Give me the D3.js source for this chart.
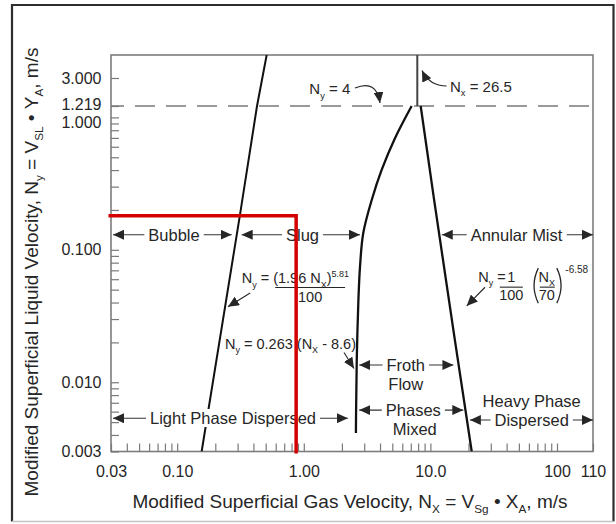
<!DOCTYPE html>
<html><head><meta charset="utf-8">
<script src="https://cdn.jsdelivr.net/npm/d3@7"></script>
<style>
html,body{margin:0;padding:0;background:#fff;}
svg{display:block;font-family:"Liberation Sans",Arial,Helvetica,sans-serif;}
</style></head><body>
<svg id="chart" width="616" height="524"></svg>
<script>
// ---------------- data ----------------
const xTickValues = [0.03, 0.1, 1, 10, 100, 110];
const xTickLabels = ["0.03", "0.10", "1.00", "10.0", "100", "110"];
const yTickValues = [0.003, 0.01, 0.1, 1, 1.219, 3];
const yTickLabels = ["0.003", "0.010", "0.100", "1.000", "1.219", "3.000"];
const xDomain = [0.03, 100, 110];
const yDomain = [0.003, 1.219, 3, 6.3];

// Bubble / Slug boundary
const bubbleNx = [0.509, 0.427, 0.313, 0.156];
const bubbleNy = [6.3, 1.219, 0.183, 0.003];
// Slug / Froth boundary (top to bottom)
const frothNx = [7.11, 5.25, 4.12, 3.44, 2.95, 2.78, 2.70, 2.65, 2.62, 2.58];
const frothNy = [1.219, 0.696, 0.401, 0.238, 0.134, 0.0746, 0.0418, 0.0236, 0.0147, 0.00414];
// Froth / Annular mist boundary (top to bottom)
const mistNx = [8.38, 10.7, 15.6, 21.2];
const mistNy = [1.219, 0.238, 0.0209, 0.003];
// Nx = 26.5 vertical segment
const verticalNx = [7.88, 7.88];
const verticalNy = [6.3, 1.219];
// dashed level and red operating point
const dashedNy = 1.219;
const redNx = 0.87;
const redNy = 0.181;

// region labels with double arrows
const rowLabels = ["Bubble", "Slug", "Annular Mist", "Light Phase Dispersed", "Froth", "Phases", "Dispersed"];
const rowFromNx = [0.0311, 0.323, 12.3, 0.0311, 2.74, 2.74, 20.5];
const rowToNx   = [0.2695, 2.78, 110, 2.23, 15.2, 18.2, 110];
const rowNy     = [0.13, 0.13, 0.13, 0.00535, 0.0135, 0.00617, 0.00519];
const rowTextNx = [0.0944, 0.977, 47.9, 0.276, 6.39, 7.33, 63.1];
// plain labels
const plainLabels = ["Flow", "Mixed", "Heavy Phase"];
const plainNx = [6.39, 7.52, 63.1];
const plainNy = [0.0097, 0.00441, 0.00713];

// ---------------- drawing ----------------
const W = 616, H = 524;
const L = 111, R = 593, T = 55, B = 451.5;
const ink = "#262626";
const FONT = '"Liberation Sans", Arial, Helvetica, sans-serif';

const x = d3.scaleLog().domain(xDomain).range([L, 557, R]);
const y = d3.scaleLog().domain(yDomain).range([B, 106, 78, T]);

const svg = d3.select("#chart").attr("font-family", FONT);
svg.append("rect").attr("width", W).attr("height", H).attr("fill", "#fff");

// outer border
svg.append("path").attr("d", "M12,521.5 L12,5 L613.5,5 L613.5,521.5")
  .attr("fill", "none").attr("stroke", "#2e2e2e").attr("stroke-width", 2.2);
svg.append("line").attr("x1", 12).attr("x2", 613.5).attr("y1", 521.5).attr("y2", 521.5)
  .attr("stroke", "#c4c4c4").attr("stroke-width", 1.5);

const defs = svg.append("defs");
defs.append("clipPath").attr("id", "plotclip").append("rect")
  .attr("x", L).attr("y", T).attr("width", R - L).attr("height", B - T);
defs.append("marker").attr("id", "ah").attr("viewBox", "0 0 10 10")
  .attr("refX", 10).attr("refY", 5).attr("markerWidth", 11).attr("markerHeight", 10)
  .attr("preserveAspectRatio", "none")
  .attr("markerUnits", "userSpaceOnUse").attr("orient", "auto-start-reverse")
  .append("path").attr("d", "M0,0 L10,5 L0,10 Z").attr("fill", ink);

function rich(sel, parts, fs) {
  let cur = 0;
  for (const [t, m] of parts) {
    const off = m === "sub" ? 0.28 * fs : m === "sup" ? -0.45 * fs : 0;
    const ts = sel.append("tspan").text(t.replace(/ /g, "\u00a0")).attr("dy", off - cur);
    if (m !== "n") ts.attr("font-size", 0.62 * fs);
    cur = off;
  }
}
const fmtFrom = (vals, labels) => d => {
  const i = vals.findIndex(v => Math.abs(v - d) / v < 1e-6);
  return i >= 0 ? labels[i] : "";
};

// frame
svg.append("rect").attr("x", L).attr("y", T).attr("width", R - L).attr("height", B - T)
  .attr("fill", "none").attr("stroke", "#7d7d7d").attr("stroke-width", 1.6);

// axes
const xTicks = x.ticks().filter(v => v <= 100 * 1.000001);
xTicks.push(110);
const gx = svg.append("g").attr("transform", `translate(0,${B})`)
  .call(d3.axisBottom(x).tickValues(xTicks).tickFormat(fmtFrom(xTickValues, xTickLabels))
    .tickSizeInner(-8).tickSizeOuter(0).tickPadding(14));
gx.attr("font-family", FONT).attr("font-size", 16);
gx.select(".domain").remove();
gx.selectAll(".tick line").attr("stroke", "#7a7a7a").attr("stroke-width", 1.2);
gx.selectAll(".tick text").attr("fill", ink);

const yTicks = y.ticks().filter(v => v <= 1.000001 || Math.abs(v - 3) < 1e-9);
yTicks.push(1.219);
const gy = svg.append("g").attr("transform", `translate(${L},0)`)
  .call(d3.axisLeft(y).tickValues(yTicks).tickFormat(fmtFrom(yTickValues, yTickLabels))
    .tickSizeInner(-8).tickSizeOuter(0).tickPadding(9.5));
gy.attr("font-family", FONT).attr("font-size", 16);
gy.select(".domain").remove();
gy.selectAll(".tick line").attr("stroke", "#7a7a7a").attr("stroke-width", 1.2);
gy.selectAll(".tick text").attr("fill", ink)
  .attr("dy", d => Math.abs(d - 1) < 1e-9 ? "0.62em" : Math.abs(d - 1.219) < 1e-9 ? "0.2em" : "0.32em");

// axis titles
const xt = svg.append("text").attr("x", 350).attr("y", 508).attr("text-anchor", "middle")
  .attr("font-size", 19).attr("fill", ink);
rich(xt, [["Modified Superficial Gas Velocity, N", "n"], ["X", "sub"], [" = V", "n"], ["Sg", "sub"],
  [" \u2022 X", "n"], ["A", "sub"], [", m/s", "n"]], 19);
const yt = svg.append("text").attr("transform", "translate(38,272) rotate(-90)")
  .attr("text-anchor", "middle").attr("font-size", 19).attr("fill", ink);
rich(yt, [["Modified Superficial Liquid Velocity, N", "n"], ["y", "sub"], [" = V", "n"], ["SL", "sub"],
  [" \u2022 Y", "n"], ["A", "sub"], [", m/s", "n"]], 19);

// curves
const curves = svg.append("g").attr("clip-path", "url(#plotclip)");
const straight = d3.line().x(d => x(d[0])).y(d => y(d[1]));
const smooth = d3.line().x(d => x(d[0])).y(d => y(d[1])).curve(d3.curveMonotoneY);
curves.append("path").datum([[xDomain[0], dashedNy], [xDomain[2], dashedNy]]).attr("d", straight)
  .attr("fill", "none").attr("stroke", "#7a7a7a").attr("stroke-width", 1.5)
  .attr("stroke-dasharray", "20,11").attr("stroke-dashoffset", 7);
curves.append("path").datum(d3.zip(bubbleNx, bubbleNy)).attr("d", straight)
  .attr("fill", "none").attr("stroke", "#111").attr("stroke-width", 2);
curves.append("path").datum(d3.zip(frothNx, frothNy)).attr("d", smooth)
  .attr("fill", "none").attr("stroke", "#111").attr("stroke-width", 2.3);
curves.append("path").datum(d3.zip(mistNx, mistNy)).attr("d", smooth)
  .attr("fill", "none").attr("stroke", "#111").attr("stroke-width", 2.3);
curves.append("path").datum(d3.zip(verticalNx, verticalNy)).attr("d", straight)
  .attr("fill", "none").attr("stroke", "#444").attr("stroke-width", 2);

// region labels with arrows
const ann = svg.append("g").attr("font-size", 16.5).attr("fill", ink);
function labelWithBg(g, tx, ty, text) {
  const t = g.append("text").attr("x", tx).attr("y", ty).attr("dy", "0.35em")
    .attr("text-anchor", "middle").text(text);
  const bb = t.node().getBBox();
  g.insert("rect", "text").attr("x", bb.x - 4).attr("y", bb.y).attr("width", bb.width + 8)
    .attr("height", bb.height).attr("fill", "#fff");
}
rowLabels.forEach((lab, i) => {
  const g = ann.append("g");
  const yy = y(rowNy[i]);
  g.append("line").attr("x1", x(rowFromNx[i])).attr("x2", x(rowToNx[i])).attr("y1", yy).attr("y2", yy)
    .attr("stroke", "#333").attr("stroke-width", 1.2)
    .attr("marker-start", "url(#ah)").attr("marker-end", "url(#ah)");
  labelWithBg(g, x(rowTextNx[i]), yy, lab);
});
plainLabels.forEach((lab, i) => {
  ann.append("text").attr("x", x(plainNx[i])).attr("y", y(plainNy[i])).attr("dy", "0.35em")
    .attr("text-anchor", "middle").text(lab);
});

// formula 1
const FS = 14.5;
const fg = svg.append("g").attr("font-size", FS).attr("fill", ink);
const f1x = x(0.323), f1y = y(0.0557);
const t1a = fg.append("text").attr("x", f1x).attr("y", f1y);
rich(t1a, [["N", "n"], ["y", "sub"], [" = ", "n"]], FS);
const w1 = t1a.node().getComputedTextLength();
const t1b = fg.append("text").attr("x", f1x + w1).attr("y", f1y);
rich(t1b, [["(1.96 N", "n"], ["X", "sub"], [")", "n"], ["5.81", "sup"]], FS);
const bb1 = t1b.node().getBBox();
fg.append("line").attr("x1", bb1.x + 2).attr("x2", bb1.x + bb1.width - 4)
  .attr("y1", f1y + 4).attr("y2", f1y + 4).attr("stroke", ink).attr("stroke-width", 1.1);
fg.append("text").attr("x", bb1.x + (bb1.width - 2) / 2).attr("y", f1y + 19)
  .attr("text-anchor", "middle").text("100");
fg.append("line").attr("x1", f1x + 8.5).attr("y1", f1y + 9.5).attr("x2", f1x - 13.7).attr("y2", f1y + 23.2)
  .attr("stroke", ink).attr("stroke-width", 1.1).attr("marker-end", "url(#ah)");

// formula 2
const f2x = x(0.2385), f2y = y(0.01796);
const t2 = fg.append("text").attr("x", f2x).attr("y", f2y);
rich(t2, [["N", "n"], ["y", "sub"], [" = 0.263 (N", "n"], ["X", "sub"], [" - 8.6)", "n"]], FS);
const e2 = f2x + t2.node().getComputedTextLength();
fg.append("line").attr("x1", e2 - 12).attr("y1", f2y + 4).attr("x2", e2 - 2).attr("y2", f2y + 20)
  .attr("stroke", ink).attr("stroke-width", 1.1).attr("marker-end", "url(#ah)");

// formula 3
const f3x = x(23.9), f3y = y(0.057);
const t3 = fg.append("text").attr("x", f3x).attr("y", f3y);
rich(t3, [["N", "n"], ["y", "sub"], [" =", "n"]], FS);
fg.append("text").attr("x", f3x + 33).attr("y", f3y).attr("text-anchor", "middle").text("1");
fg.append("line").attr("x1", f3x + 21.5).attr("x2", f3x + 44.5).attr("y1", f3y + 5).attr("y2", f3y + 5)
  .attr("stroke", ink).attr("stroke-width", 1.1);
fg.append("text").attr("x", f3x + 33).attr("y", f3y + 18.3).attr("text-anchor", "middle").text("100");
fg.append("path").attr("d", `M${f3x + 60},${f3y - 14} Q${f3x + 51.5},${f3y + 3.5} ${f3x + 60},${f3y + 21}`)
  .attr("fill", "none").attr("stroke", ink).attr("stroke-width", 1.3);
fg.append("path").attr("d", `M${f3x + 78.5},${f3y - 14} Q${f3x + 87},${f3y + 3.5} ${f3x + 78.5},${f3y + 21}`)
  .attr("fill", "none").attr("stroke", ink).attr("stroke-width", 1.3);
const t3n = fg.append("text").attr("x", f3x + 68.5).attr("y", f3y).attr("text-anchor", "middle");
rich(t3n, [["N", "n"], ["X", "sub"]], FS);
fg.append("line").attr("x1", f3x + 61.5).attr("x2", f3x + 76.5).attr("y1", f3y + 5).attr("y2", f3y + 5)
  .attr("stroke", ink).attr("stroke-width", 1.1);
fg.append("text").attr("x", f3x + 68.5).attr("y", f3y + 18.3).attr("text-anchor", "middle").text("70");
fg.append("text").attr("x", f3x + 87).attr("y", f3y - 9.5).attr("font-size", 10).text("-6.58");
fg.append("line").attr("x1", f3x + 6.7).attr("y1", f3y + 5.1).attr("x2", f3x - 11.6).attr("y2", f3y + 23.8)
  .attr("stroke", ink).attr("stroke-width", 1.1).attr("marker-end", "url(#ah)");

// Ny = 4 and Nx = 26.5 callouts near the junction
const jx = x(7.5), jy = y(1.219);
const cg = svg.append("g").attr("font-size", 15).attr("fill", ink);
const tA = cg.append("text").attr("x", jx - 105.3).attr("y", jy - 11.6);
rich(tA, [["N", "n"], ["y", "sub"], [" = 4", "n"]], 15);
cg.append("path").attr("d", `M${jx - 59.6},${jy - 18} Q${jx - 38},${jy - 27} ${jx - 34.6},${jy - 3}`)
  .attr("fill", "none").attr("stroke", ink).attr("stroke-width", 1.2).attr("marker-end", "url(#ah)");
const tB = cg.append("text").attr("x", jx + 35.4).attr("y", jy - 14);
rich(tB, [["N", "n"], ["x", "sub"], [" = 26.5", "n"]], 15);
cg.append("path").attr("d", `M${jx + 32},${jy - 20} Q${jx + 15},${jy - 20} ${jx + 7.4},${jy - 35.5}`)
  .attr("fill", "none").attr("stroke", ink).attr("stroke-width", 1.2).attr("marker-end", "url(#ah)");

// red operating-point lines
const rx = x(redNx), ry = y(redNy);
svg.append("path").attr("d", `M${L - 2.5},${ry} L${rx},${ry} L${rx},${B + 2}`)
  .attr("fill", "none").attr("stroke", "#d40000").attr("stroke-width", 3.5)
  .attr("stroke-linejoin", "miter").attr("stroke-linecap", "butt");
</script>
</body></html>
